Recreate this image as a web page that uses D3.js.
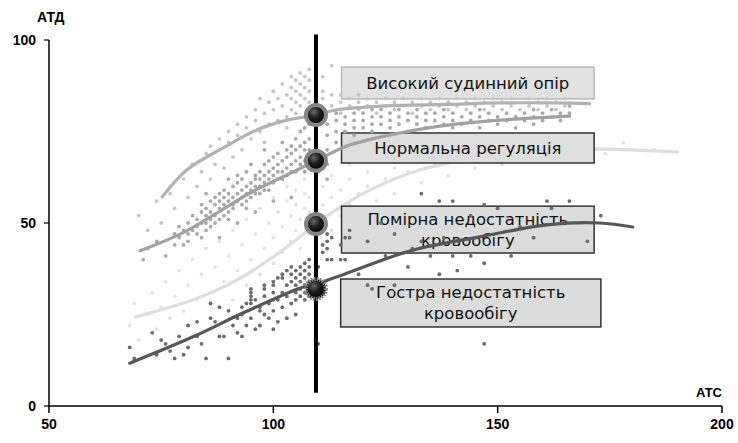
<!DOCTYPE html>
<html>
<head>
<meta charset="utf-8">
<script src="https://cdn.jsdelivr.net/npm/d3@7"></script>
<style>
  body { margin: 0; background: #fff; }
  svg { display: block; }
</style>
</head>
<body>
<div id="chart"></div>
<script>
// axis ticks
const xTicks = [50, 100, 150, 200];
const yTicks = [0, 50, 100];

// scatter columns: [x, y1, y2, ...]
const highPts = [
  [70,52],[72,48],[74,56],[75,50],[77,58],[78,54],[80,62],[81,57],[82,66],[83,60],[84,64],[85,69],
  [86,62,71],[87,66],[88,70,73],[89,65],[90,72,75],[91,68],[92,74,77],[93,70],[94,76,79],[95,73],
  [96,78,81],[97,75,84],[98,80,72],[99,77,83],[100,81,86],[101,78,84],[102,82,88],[103,79,85,76],
  [104,81,84,87,90],[105,80,83,86,89],[106,82,85,88,91],[107,79,84,87,90],[108,81,83,86,89,92],
  [111,81,84,86,90],[113,82,85,93],[115,80,83,85],[117,82,84],[119,81,83,85],[121,82,84],[123,80,83],
  [125,82,84],[127,81,83],[129,82,84],[131,80,83],[133,82,84],[135,81,83],[137,82,84],[139,81,83],
  [141,82,84],[143,81,83],[145,82,84],[147,81,83],[149,82,84],[151,81,83],[153,82,84],[155,81],
  [157,82,84],[159,81,83],[161,82,84],[163,81,83],[165,82,84]
];
const normalPts = [
  [71,40],[72,43],[74,45],[76,41],[78,44,47],[79,46,49],[80,44,48],[81,45,47,50],[82,48,52],
  [83,47,49,51],[84,46,50,53,55],[85,48,50,52,54,58],[86,49,51,53,56],[87,50,52,55,57],
  [88,46,51,54,56,58],[89,52,55,57,59],[90,51,53,56,58,62],[91,54,55,57,60],[92,50,56,58,61,63],
  [93,55,57,59,62],[94,54,56,58,60,64],[95,57,59,61,66],[96,53,58,60,62,63],[97,58,60,62,64],
  [98,59,61,63,66,70],[99,59,62,64,67],[100,56,61,63,65,68],[101,62,64,66,69],[102,62,64,67,72],
  [103,63,65,68,70],[104,57,64,66,69,71],[105,64,67,70,73],[106,66,68,71,75],[107,64,67,70,72,76],
  [108,66,68,70,73,77],
  [110,64,66,68],[112,62,66,70,74,77],[114,72,75,78,80],[116,75,77,79],[118,74,76,78,80],
  [120,76,78,80],[122,75,77,79,81],[124,77,79,81],[126,76,78,80],[128,77,79,81],[130,75,78,80],
  [132,77,79,81],[134,76,78,80],[136,78,80],[138,77,79,81],[140,76,78,80],[142,77,79],[144,78,80],
  [146,76,79,81],[148,78,80],[150,77,79],[152,78,80],[154,76,79],[156,78,80],[158,77,79,81],
  [160,78,80],[162,79,81],[164,78,80],[166,80,82]
];
const moderatePts = [
  [68,22],[69,28],[70,18],[72,25],[73,31],[74,21],[75,27],[76,34],[77,24],[78,30],[79,37],[80,26],
  [81,33],[82,40],[83,29],[84,36],[85,43],[86,31],[87,38],[88,45],[89,34],[90,41],[91,29,48],
  [92,37],[93,44],[94,33,51],[95,40],[96,47],[97,36,54],[98,43],[99,50],[100,39,46,57],[101,53],
  [102,42,49],[103,56,60],[104,45,52],[105,48,55,59],[106,43,51],[107,54,58,62],[108,47,50,53,57],
  [111,50,55,60],[113,48,57,63],[115,52,59],[117,55,62,66],[119,51,58],[121,60,64],[123,56,67],
  [125,62,68],[127,58,65],[130,64,70],[133,61,67],[136,66,71],[139,63,69],[142,67,72],[145,65,70],
  [148,68],[151,66,72],[155,69],[158,67,73],[162,70],[166,68,74],[170,71],[174,69],[178,72],[185,70]
];
const acutePts = [
  [68,16],[69,13],[73,20],[74,14],[75,18],[76,17],[77,15],[78,13],[79,19],[80,14],[81,22,16],
  [83,23,19],[84,17],[85,13],[86,24,28],[87,23],[88,19,27],[89,19],[90,13,26],[91,22],[92,20,24],
  [93,19,25,27],[94,28,22],[95,24,28,29,30,31,32],[96,29,21],[97,22,26,27],[98,30,32,33,25],
  [99,24,28],[100,21,26,29,31,33,34],[101,29,23,35],[102,27,31,35,36],[103,30,33,24,37],
  [104,34,28,36,38],[105,25,29,31,33,35,37],[106,30,32,34,36,38],[107,29,31,33,35,37,39],
  [108,30,32,34,36,38,40],[110,30,38,17],[111,42,44],[112,40,43,45,47],[113,40,46],[115,40,44],
  [116,40,46],[117,46,48],[119,36],[121,45,33],[122,32],[124,50],[125,41],[127,47,33],[130,38],
  [131,43],[133,58,45],[135,41],[137,56,36],[138,46],[140,41,56],[141,37],[144,41,52],
  [147,55,39,17],[150,54],[153,41],[155,49],[158,46],[161,56],[162,54],[166,56],[170,45],[173,52]
];

// fitted curves [x, y]
const highCurve = [[75.2,57.1],[80.7,64.5],[88.8,70.5],[96.3,75.4],[103,78.1],[109.5,79.5],[114.1,80.9],[125,82],[138.6,82.4],[150,82.8],[163.1,82.8],[170.5,82.6]];
const normalCurve = [[70.3,42.4],[79.8,47.3],[87.4,52.7],[94.8,58.2],[103,63.1],[109.5,67],[117,71.3],[128.2,74.6],[139.3,76.8],[150.4,78.1],[166,79.2]];
const moderateCurve = [[69.2,24.3],[82.1,29],[91.9,34.4],[99.9,40.7],[105.9,46.2],[109.5,49.7],[112.6,52.5],[121.5,59],[132.6,64.5],[146,67.8],[159.4,69.4],[172.7,70.2],[190.1,69.4]];
const acuteCurve = [[68,11.7],[82.1,18.9],[93.2,25.4],[105.9,32.2],[109.5,33.3],[116.4,36.3],[131.1,42.6],[146,46.2],[160.9,49.5],[172.7,50],[180.1,48.9]];

// marker line and state points on it
const markerX = 109.5;
const markerSpan = [3.6, 101.5];
const stateY = [79.5, 67, 49.7, 32];

// annotation labels
const labelLines = [
  ["Високий судинний опір"],
  ["Нормальна регуляція"],
  ["Помірна недостатність", "кровообігу"],
  ["Гостра недостатність", "кровообігу"]
];

const width = 738, height = 443;
const x = d3.scaleLinear().domain([50, 200]).range([49, 722]);
const y = d3.scaleLinear().domain([0, 100]).range([406, 40]);

// label box extents in data units
const boxes = [
  {x0: 115.2, x1: 171.5, y0: 92.6, y1: 83.9, fill: "#e2e2e2", stroke: "#b8b8b8"},
  {x0: 115.2, x1: 171.5, y0: 74.6, y1: 66.4, fill: "#dedede", stroke: "#333"},
  {x0: 115.2, x1: 171.5, y0: 54.6, y1: 41.8, fill: "#dcdcdc", stroke: "#333"},
  {x0: 115.0, x1: 173.0, y0: 34.7, y1: 21.6, fill: "#dcdcdc", stroke: "#333"}
];

const svg = d3.select("#chart").append("svg")
  .attr("width", width)
  .attr("height", height)
  .style("font-family", "'Liberation Sans', Arial, sans-serif");

const defs = svg.append("defs");
const grad = defs.append("radialGradient").attr("id", "ball")
  .attr("cx", "40%").attr("cy", "35%").attr("r", "65%");
grad.append("stop").attr("offset", "0%").attr("stop-color", "#6a6a6a");
grad.append("stop").attr("offset", "45%").attr("stop-color", "#1e1e1e");
grad.append("stop").attr("offset", "100%").attr("stop-color", "#000");

const line = d3.line().x(d => x(d[0])).y(d => y(d[1])).curve(d3.curveCatmullRom);

function drawPoints(pts, color) {
  const flat = pts.flatMap(c => c.slice(1).map(v => [c[0], v]));
  svg.append("g").attr("fill", color)
    .selectAll("circle").data(flat).join("circle")
    .attr("cx", d => x(d[0]))
    .attr("cy", d => y(d[1]))
    .attr("r", 1.9);
}
function drawCurve(data, color) {
  svg.append("path")
    .attr("d", line(data))
    .attr("fill", "none")
    .attr("stroke", color)
    .attr("stroke-width", 3.2)
    .attr("stroke-linecap", "round");
}

// palest group sits under the label boxes
drawPoints(moderatePts, "#e3e3e3");
drawCurve(moderateCurve, "#dedede");

// label boxes
const boxG = svg.append("g");
boxes.forEach((b, i) => {
  boxG.append("rect")
    .attr("x", x(b.x0)).attr("y", y(b.y0))
    .attr("width", x(b.x1) - x(b.x0)).attr("height", y(b.y1) - y(b.y0))
    .attr("fill", b.fill).attr("stroke", b.stroke).attr("stroke-width", 1.5);
  const lines = labelLines[i];
  const cx = (x(b.x0) + x(b.x1)) / 2;
  const cy = (y(b.y0) + y(b.y1)) / 2;
  const lh = 21;
  lines.forEach((t, j) => {
    boxG.append("text")
      .attr("x", cx)
      .attr("y", cy + (j - (lines.length - 1) / 2) * lh)
      .attr("dy", "0.36em")
      .attr("text-anchor", "middle")
      .style("font-family", "'DejaVu Sans', Verdana, sans-serif")
      .style("font-size", "16.5px")
      .attr("fill", "#111")
      .text(t);
  });
});

drawPoints(highPts, "#c6c6c6");
drawPoints(normalPts, "#a9a9a9");
drawPoints(acutePts, "#6c6c6c");
drawCurve(highCurve, "#b2b2b2");
drawCurve(normalCurve, "#a2a2a2");
drawCurve(acuteCurve, "#575757");

// axes
const xAxis = svg.append("g").attr("transform", `translate(0,${y(0)})`);
xAxis.append("line").attr("x1", x(50)).attr("x2", x(200))
  .attr("stroke", "#000").attr("stroke-width", 1.5);
xAxis.selectAll("line.tick").data(xTicks).join("line").attr("class", "tick")
  .attr("x1", d => x(d)).attr("x2", d => x(d)).attr("y1", 0).attr("y2", 7)
  .attr("stroke", "#000").attr("stroke-width", 1.5);
xAxis.selectAll("text").data(xTicks).join("text")
  .attr("x", d => x(d)).attr("y", 23)
  .attr("text-anchor", "middle")
  .style("font-size", "14px").style("font-weight", "bold")
  .text(d => d);

const yAxis = svg.append("g").attr("transform", `translate(${x(50)},0)`);
yAxis.append("line").attr("y1", y(0)).attr("y2", y(100))
  .attr("stroke", "#000").attr("stroke-width", 1.5);
yAxis.selectAll("line.tick").data(yTicks).join("line").attr("class", "tick")
  .attr("x1", -5).attr("x2", 0).attr("y1", d => y(d)).attr("y2", d => y(d))
  .attr("stroke", "#000").attr("stroke-width", 1.2);
yAxis.selectAll("text").data(yTicks).join("text")
  .attr("x", -13).attr("y", d => y(d)).attr("dy", "0.36em")
  .attr("text-anchor", "end")
  .style("font-size", "14px").style("font-weight", "bold")
  .text(d => d);

svg.append("text").attr("x", 37).attr("y", 22)
  .style("font-size", "14px").style("font-weight", "bold").text("АТД");
svg.append("text").attr("x", 722).attr("y", 397).attr("text-anchor", "end")
  .style("font-size", "13px").style("font-weight", "bold").text("АТС");

// marker line and balls
svg.append("line")
  .attr("x1", x(markerX)).attr("x2", x(markerX))
  .attr("y1", y(markerSpan[0])).attr("y2", y(markerSpan[1]))
  .attr("stroke", "#000").attr("stroke-width", 4);

svg.append("g").selectAll("circle").data(stateY).join("circle")
  .attr("cx", x(markerX))
  .attr("cy", d => y(d))
  .attr("r", 10)
  .attr("fill", "url(#ball)")
  .attr("stroke", "#858585")
  .attr("stroke-width", 4)
  .attr("stroke-dasharray", (d, i) => i === 3 ? "1.6,1.2" : null);
</script>
</body>
</html>
